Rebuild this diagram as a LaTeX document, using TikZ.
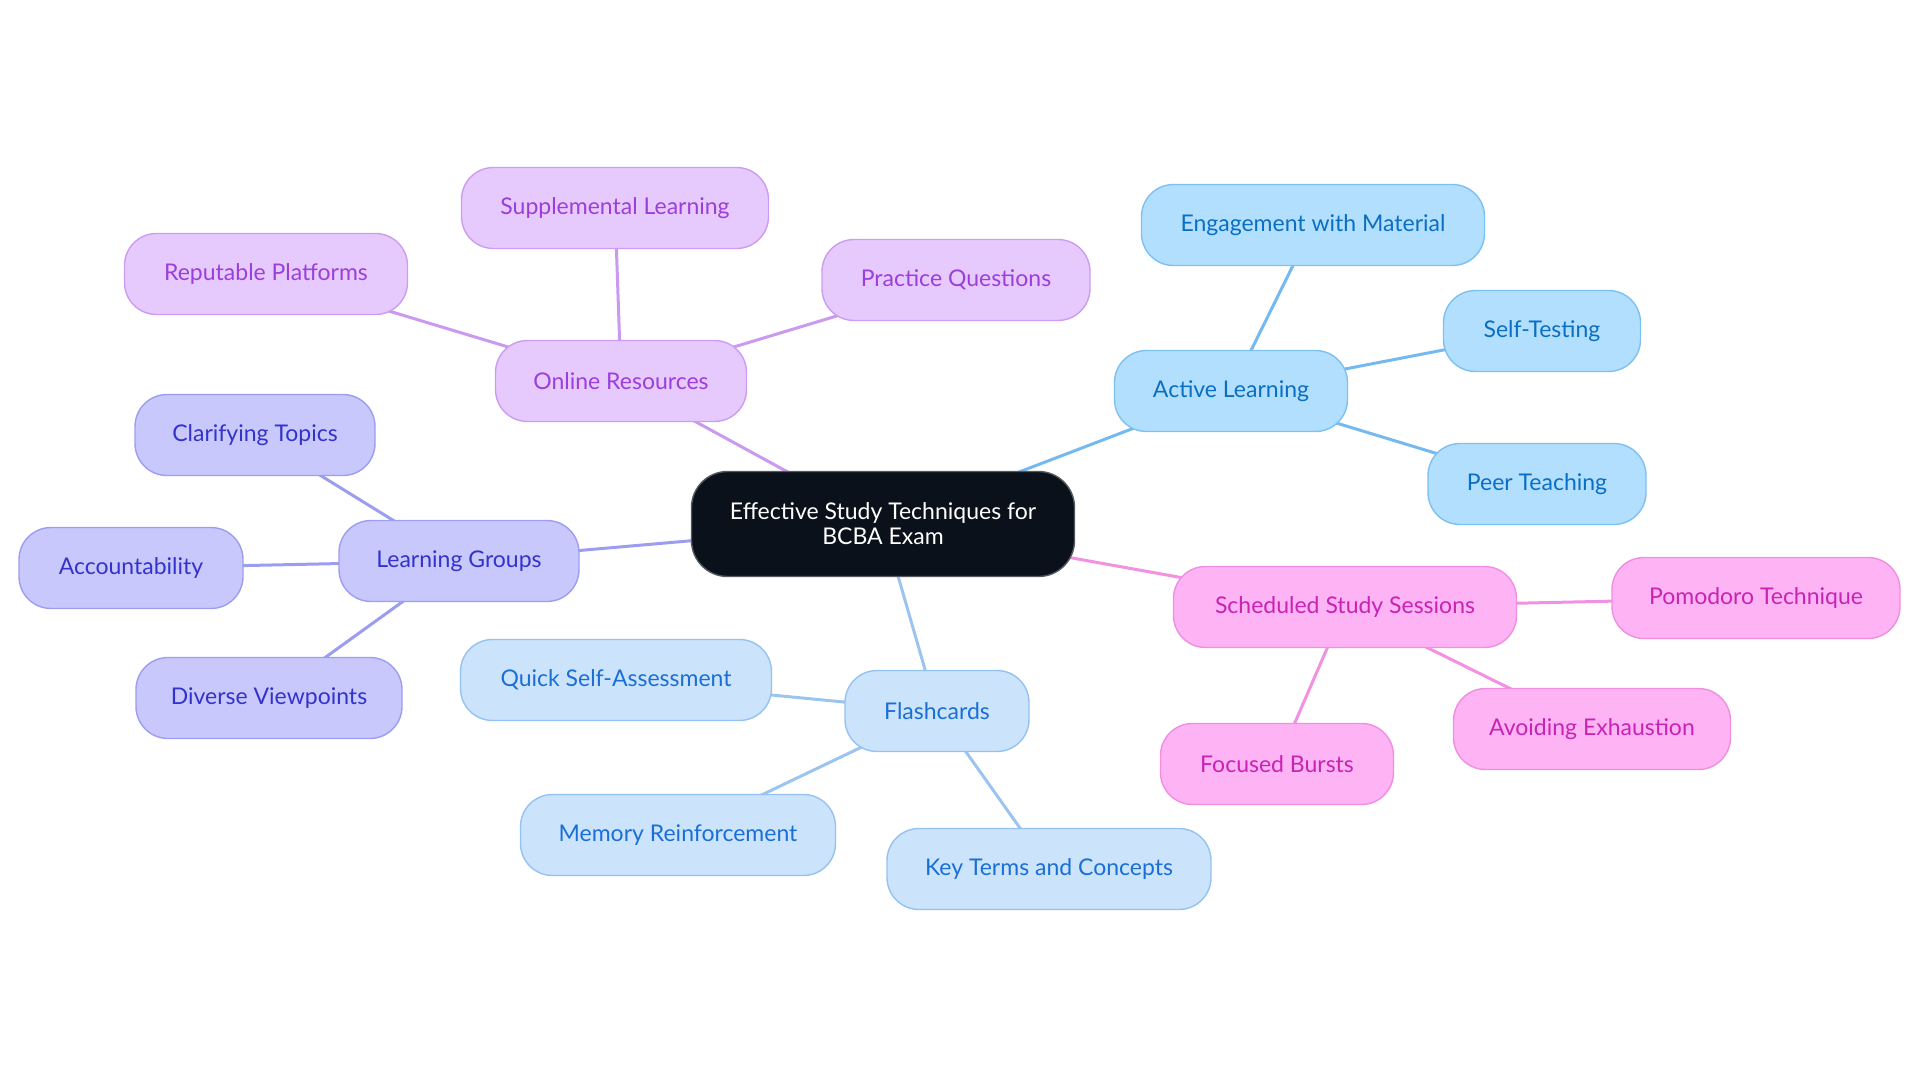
\documentclass[tikz,border=0pt]{standalone}
\usepackage{fontspec}
\setmainfont{Lato}
\usetikzlibrary{backgrounds}
\definecolor{cdark}{HTML}{0B111A}
\definecolor{cdarkb}{HTML}{55595F}
\definecolor{afill}{HTML}{B3DFFE}
\definecolor{adraw}{HTML}{7DC0F2}
\definecolor{atext}{HTML}{0A6FC2}
\definecolor{aline}{HTML}{74B9F0}
\definecolor{ofill}{HTML}{E7CAFD}
\definecolor{odraw}{HTML}{CC9CF2}
\definecolor{otext}{HTML}{9B3EDB}
\definecolor{oline}{HTML}{C99AF0}
\definecolor{lfill}{HTML}{C8C8FD}
\definecolor{ldraw}{HTML}{9D9DF2}
\definecolor{ltext}{HTML}{3333CC}
\definecolor{lline}{HTML}{9C9CF0}
\definecolor{ffill}{HTML}{CCE3FC}
\definecolor{fdraw}{HTML}{94C2F2}
\definecolor{ftext}{HTML}{1A6FD6}
\definecolor{fline}{HTML}{9CC4F0}
\definecolor{sfill}{HTML}{FDB3F4}
\definecolor{sdraw}{HTML}{F08FE0}
\definecolor{stext}{HTML}{C923B4}
\definecolor{sline}{HTML}{F290E2}
\tikzset{
  pill/.style={rounded corners=32pt, minimum height=81pt, inner xsep=8pt, line width=1.4pt,
    font=\fontsize{23}{27}\selectfont, align=center},
  abox/.style={pill, fill=afill, draw=adraw, text=atext},
  obox/.style={pill, fill=ofill, draw=odraw, text=otext},
  lbox/.style={pill, fill=lfill, draw=ldraw, text=ltext},
  fbox/.style={pill, fill=ffill, draw=fdraw, text=ftext},
  sbox/.style={pill, fill=sfill, draw=sdraw, text=stext},
  rootbox/.style={rounded corners=36pt, minimum height=105pt, minimum width=383pt, line width=1.4pt,
    fill=cdark, draw=cdarkb, text=white, font=\fontsize{23}{25}\selectfont, align=center},
  conn/.style={line width=3pt}
}
\begin{document}
\begin{tikzpicture}[x=1pt,y=-1pt]
\useasboundingbox (0,0) rectangle (1920,1083);
\node[rootbox] (root) at (883,524) {Effective Study Techniques for\\BCBA Exam};
% Online Resources
\node[obox, minimum width=251pt] (on) at (621,381) {Online Resources};
\node[obox, minimum width=307pt] (sup) at (615,208) {Supplemental Learning};
\node[obox, minimum width=283pt] (rep) at (266,274) {Reputable Platforms};
\node[obox, minimum width=268pt] (pq) at (956,280) {Practice Questions};
% Active Learning
\node[abox, minimum width=233pt] (al) at (1231,391) {Active Learning};
\node[abox, minimum width=343pt] (eng) at (1313,225) {Engagement with Material};
\node[abox, minimum width=197pt] (st) at (1542,331) {Self-Testing};
\node[abox, minimum width=218pt] (pt) at (1537,484) {Peer Teaching};
% Learning Groups
\node[lbox, minimum width=240pt] (lg) at (459,561) {Learning Groups};
\node[lbox, minimum width=240pt] (ct) at (255,435) {Clarifying Topics};
\node[lbox, minimum width=224pt] (acc) at (131,568) {Accountability};
\node[lbox, minimum width=266pt] (dv) at (269,698) {Diverse Viewpoints};
% Flashcards
\node[fbox, minimum width=184pt] (fc) at (937,711) {Flashcards};
\node[fbox, minimum width=311pt] (qs) at (616,680) {Quick Self-Assessment};
\node[fbox, minimum width=315pt] (mr) at (678,835) {Memory Reinforcement};
\node[fbox, minimum width=324pt] (kt) at (1049,869) {Key Terms and Concepts};
% Scheduled
\node[sbox, minimum width=343pt] (ss) at (1345,607) {Scheduled Study Sessions};
\node[sbox, minimum width=288pt] (pom) at (1756,598) {Pomodoro Technique};
\node[sbox, minimum width=277pt] (ae) at (1592,729) {Avoiding Exhaustion};
\node[sbox, minimum width=233pt] (fb) at (1277,764) {Focused Bursts};
\begin{pgfonlayer}{background}
\draw[conn, oline] (root.center) -- (on.center);
\draw[conn, oline] (on.center) -- (sup.center);
\draw[conn, oline] (on.center) -- (rep.center);
\draw[conn, oline] (on.center) -- (pq.center);
\draw[conn, aline] (root.center) -- (al.center);
\draw[conn, aline] (al.center) -- (eng.center);
\draw[conn, aline] (al.center) -- (st.center);
\draw[conn, aline] (al.center) -- (pt.center);
\draw[conn, lline] (root.center) -- (lg.center);
\draw[conn, lline] (lg.center) -- (ct.center);
\draw[conn, lline] (lg.center) -- (acc.center);
\draw[conn, lline] (lg.center) -- (dv.center);
\draw[conn, fline] (root.center) -- (fc.center);
\draw[conn, fline] (fc.center) -- (qs.center);
\draw[conn, fline] (fc.center) -- (mr.center);
\draw[conn, fline] (fc.center) -- (kt.center);
\draw[conn, sline] (root.center) -- (ss.center);
\draw[conn, sline] (ss.center) -- (pom.center);
\draw[conn, sline] (ss.center) -- (ae.center);
\draw[conn, sline] (ss.center) -- (fb.center);
\end{pgfonlayer}
\end{tikzpicture}
\end{document}
